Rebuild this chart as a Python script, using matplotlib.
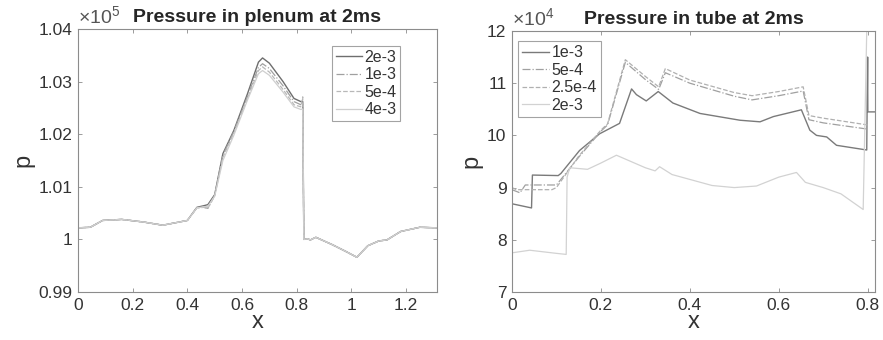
import matplotlib
matplotlib.use("Agg")
import matplotlib.pyplot as plt
from matplotlib.ticker import FuncFormatter

plt.rcParams['font.family'] = ['Liberation Sans', 'DejaVu Sans']
plt.rcParams['mathtext.fontset'] = 'custom'
plt.rcParams['mathtext.rm'] = 'Liberation Sans'
plt.rcParams['mathtext.it'] = 'Liberation Sans:italic'

# ---------------- Left: plenum (values in units of 1e5) ----------------
x_plenum = [0, 0.045, 0.09, 0.16, 0.24, 0.31, 0.4, 0.435, 0.46, 0.475, 0.5, 0.53,
            0.57, 0.62, 0.66, 0.675, 0.7, 0.75, 0.79, 0.815, 0.822, 0.826, 0.84,
            0.85, 0.87, 0.93, 0.98, 1.02, 1.06, 1.1, 1.13, 1.18, 1.25, 1.313]
p_plenum_2e3 = [1.0022, 1.0023, 1.0036, 1.0038, 1.0033, 1.0027, 1.0036, 1.0061, 1.0064,
                1.0066, 1.0085, 1.0163, 1.0207, 1.0277, 1.0337, 1.0345, 1.0335, 1.0300,
                1.0268, 1.0262, 1.0262, 1.0000, 1.0001, 0.9999, 1.0004, 0.9990, 0.9977,
                0.9966, 0.9988, 0.9997, 0.9999, 1.0015, 1.0023, 1.0022]
p_plenum_1e3 = [1.0022, 1.0023, 1.0036, 1.0038, 1.0033, 1.0027, 1.0036, 1.0060, 1.0061,
                1.0059, 1.0084, 1.0160, 1.0205, 1.0272, 1.0327, 1.0334, 1.0325, 1.0292,
                1.0262, 1.0256, 1.0258, 1.0000, 1.0001, 0.9999, 1.0004, 0.9990, 0.9977,
                0.9966, 0.9988, 0.9997, 0.9999, 1.0015, 1.0023, 1.0022]
p_plenum_5e4 = [1.0022, 1.0023, 1.0036, 1.0038, 1.0033, 1.0027, 1.0036, 1.0060, 1.0061,
                1.0059, 1.0083, 1.0156, 1.0202, 1.0268, 1.0321, 1.0328, 1.0318, 1.0285,
                1.0256, 1.0252, 1.0271, 1.0000, 1.0001, 0.9999, 1.0004, 0.9990, 0.9977,
                0.9966, 0.9988, 0.9997, 0.9999, 1.0015, 1.0023, 1.0022]
p_plenum_4e3 = [1.0022, 1.0023, 1.0036, 1.0038, 1.0033, 1.0027, 1.0036, 1.0060, 1.0062,
                1.0063, 1.0082, 1.0150, 1.0198, 1.0265, 1.0315, 1.0321, 1.0312, 1.0280,
                1.0252, 1.0247, 1.0248, 1.0000, 1.0001, 0.9999, 1.0004, 0.9990, 0.9977,
                0.9966, 0.9988, 0.9997, 0.9999, 1.0015, 1.0023, 1.0022]

# ---------------- Right: tube (values in units of 1e4) ----------------
x_tube_1e3 = [0, 0.044, 0.046, 0.104, 0.11, 0.152, 0.197, 0.242, 0.269, 0.28, 0.302,
              0.329, 0.362, 0.423, 0.513, 0.558, 0.588, 0.651, 0.67, 0.685, 0.708,
              0.73, 0.798, 0.8, 0.8005, 0.8167]
p_tube_1e3 = [8.69, 8.61, 9.24, 9.23, 9.27, 9.71, 10.03, 10.23, 10.89, 10.78, 10.66,
              10.84, 10.62, 10.42, 10.29, 10.26, 10.36, 10.49, 10.1, 10.0, 9.97,
              9.81, 9.72, 11.5, 10.45, 10.45]
x_tube_5e4 = [0, 0.018, 0.03, 0.1, 0.15, 0.2, 0.215, 0.255, 0.3, 0.33, 0.345, 0.4,
              0.5, 0.54, 0.6, 0.655, 0.668, 0.7, 0.8]
p_tube_5e4 = [8.96, 8.9, 9.05, 9.05, 9.58, 10.08, 10.2, 11.4, 11.07, 10.88, 11.2, 11.0,
              10.75, 10.68, 10.76, 10.85, 10.3, 10.24, 10.12]
x_tube_25e4 = [0, 0.01, 0.09, 0.1, 0.15, 0.2, 0.215, 0.255, 0.3, 0.33, 0.345, 0.4,
               0.5, 0.54, 0.6, 0.655, 0.668, 0.7, 0.8]
p_tube_25e4 = [9.0, 8.96, 8.96, 9.0, 9.6, 10.1, 10.22, 11.45, 11.13, 10.93, 11.28, 11.06,
               10.82, 10.76, 10.84, 10.93, 10.38, 10.33, 10.2]
x_tube_2e3 = [0, 0.04, 0.1, 0.122, 0.124, 0.13, 0.17, 0.2, 0.235, 0.3, 0.322, 0.332,
              0.36, 0.45, 0.5, 0.55, 0.6, 0.64, 0.66, 0.7, 0.74, 0.79, 0.798, 0.7985]
p_tube_2e3 = [7.75, 7.8, 7.74, 7.72, 9.2, 9.38, 9.35, 9.47, 9.62, 9.38, 9.32, 9.40,
              9.25, 9.04, 9.0, 9.03, 9.2, 9.29, 9.1, 9.0, 8.88, 8.58, 12.0, 12.0]

plenum_labels = ['2e-3', '1e-3', '5e-4', '4e-3']
tube_labels = ['1e-3', '5e-4', '2.5e-4', '2e-3']
plenum_xticks = [0, 0.2, 0.4, 0.6, 0.8, 1, 1.2]
plenum_yticks = [0.99, 1, 1.01, 1.02, 1.03, 1.04]
tube_xticks = [0, 0.2, 0.4, 0.6, 0.8]
tube_yticks = [7, 8, 9, 10, 11, 12]

TXT = '#333333'
SPN = '#8c8c8c'
fmt = FuncFormatter(lambda v, p: ('%g' % round(v, 6)))

fig = plt.figure(figsize=(8.83, 3.4), dpi=100)
ax1 = fig.add_axes([0.0883, 0.1412, 0.4066, 0.7735])
ax2 = fig.add_axes([0.5798, 0.1412, 0.4112, 0.7677])

ax1.plot(x_plenum, p_plenum_2e3, color='#6e6e6e', lw=1.0, ls='-', label=plenum_labels[0])
ax1.plot(x_plenum, p_plenum_1e3, color='#a0a0a0', lw=0.9, ls='-.', label=plenum_labels[1])
ax1.plot(x_plenum, p_plenum_5e4, color='#b8b8b8', lw=0.9, ls='--', label=plenum_labels[2])
ax1.plot(x_plenum, p_plenum_4e3, color='#cfcfcf', lw=0.9, ls='-', label=plenum_labels[3])
ax1.set_xlim(0, 1.313)
ax1.set_ylim(0.99, 1.04)
ax1.set_xticks(plenum_xticks)
ax1.set_yticks(plenum_yticks)

ax2.plot(x_tube_1e3, p_tube_1e3, color='#7a7a7a', lw=1.0, ls='-', label=tube_labels[0])
ax2.plot(x_tube_5e4, p_tube_5e4, color='#a0a0a0', lw=0.9, ls='-.', label=tube_labels[1])
ax2.plot(x_tube_25e4, p_tube_25e4, color='#b0b0b0', lw=0.9, ls='--', label=tube_labels[2])
ax2.plot(x_tube_2e3, p_tube_2e3, color='#d2d2d2', lw=0.9, ls='-', label=tube_labels[3])
ax2.set_xlim(0, 0.8167)
ax2.set_ylim(7, 12)
ax2.set_xticks(tube_xticks)
ax2.set_yticks(tube_yticks)

for ax, title, exp in [(ax1, 'Pressure in plenum at 2ms', '5'),
                       (ax2, 'Pressure in tube at 2ms', '4')]:
    ax.xaxis.set_major_formatter(fmt)
    ax.yaxis.set_major_formatter(fmt)
    ax.tick_params(direction='in', length=3, width=0.6, colors=SPN,
                   labelcolor=TXT, labelsize=12.5, top=True, right=True, pad=4)
    for s in ax.spines.values():
        s.set_color(SPN)
        s.set_linewidth(0.8)
    ax.set_title(title, fontsize=14, fontweight='bold', color='#262626', pad=5)
    ax.set_xlabel('x', fontsize=17, color=TXT, labelpad=-1)
    ax.set_ylabel('p', fontsize=17, color=TXT, labelpad=3)
    ax.text(0.0, 1.008, r'$\times10^{%s}$' % exp, transform=ax.transAxes,
            fontsize=14, color='#555555', ha='left', va='bottom')

leg1 = ax1.legend(loc='upper right', bbox_to_anchor=(0.898, 0.935), fontsize=11.5,
                  frameon=True, fancybox=False, handlelength=1.6, handletextpad=0.15,
                  borderpad=0.25, labelspacing=0.15, borderaxespad=0)
leg2 = ax2.legend(loc='upper left', bbox_to_anchor=(0.017, 0.96), fontsize=11.5,
                  frameon=True, fancybox=False, handlelength=1.7, handletextpad=0.15,
                  borderpad=0.25, labelspacing=0.15, borderaxespad=0)
for leg in (leg1, leg2):
    leg.get_frame().set_edgecolor(SPN)
    leg.get_frame().set_linewidth(0.8)
    for t in leg.get_texts():
        t.set_color(TXT)

fig.savefig('out.png', dpi=100, facecolor='white')
